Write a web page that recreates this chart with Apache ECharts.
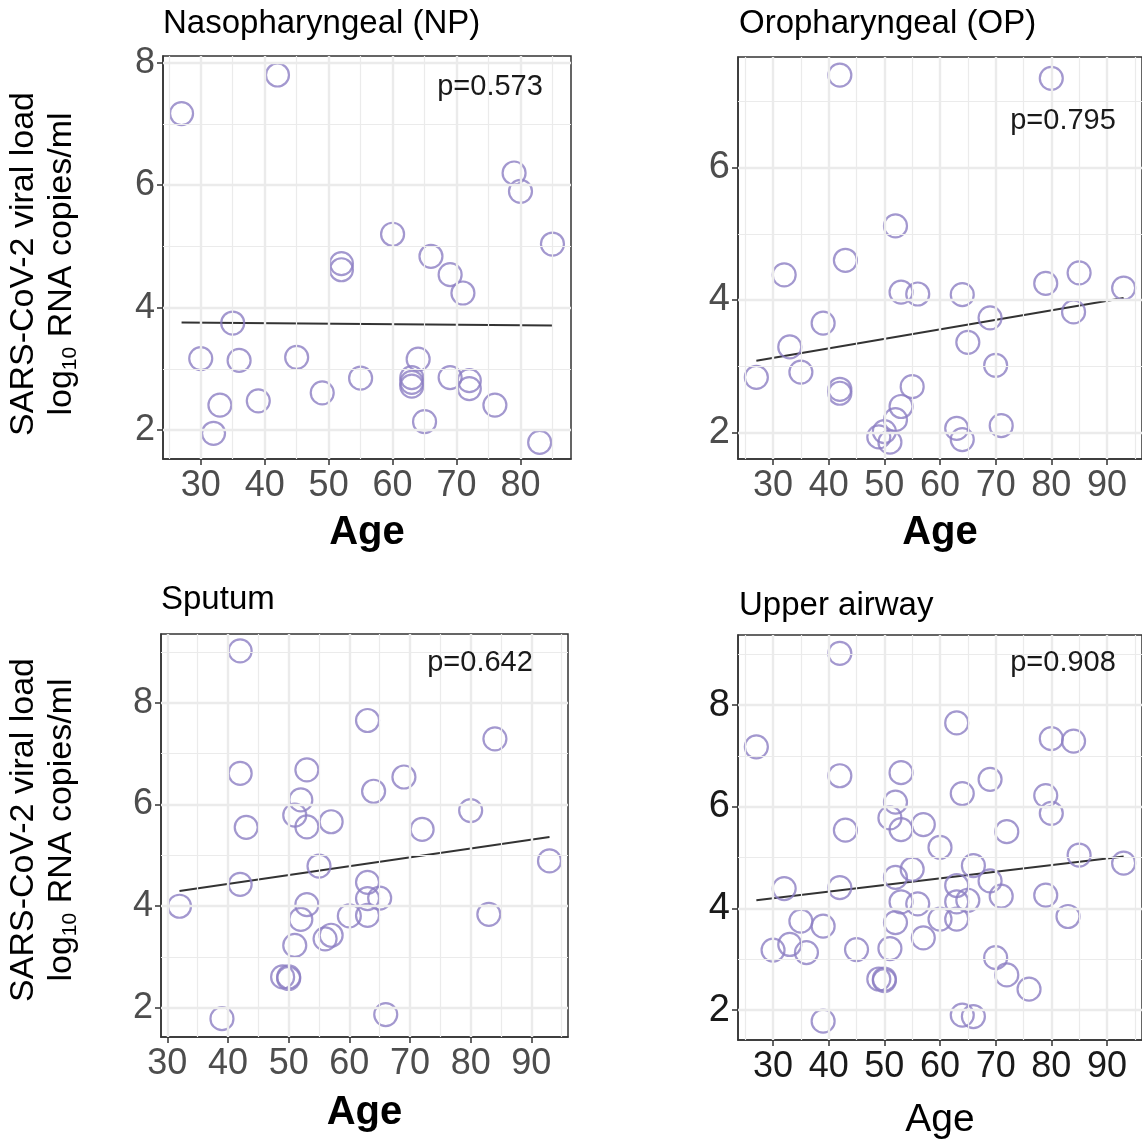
<!DOCTYPE html>
<html><head><meta charset="utf-8">
<script src="https://cdn.jsdelivr.net/npm/echarts@6/dist/echarts.min.js"></script>
<style>html,body{margin:0;padding:0;background:#fff}#c{width:1142px;height:1146px}</style>
</head><body><div id="c"></div>
<script>
// ---------- DATA ----------
const titles = ['Nasopharyngeal (NP)', 'Oropharyngeal (OP)', 'Sputum', 'Upper airway'];
const pValues = ['p=0.573', 'p=0.795', 'p=0.642', 'p=0.908'];

const npAge  = [27,42,79,80,85,60,52,52,66,69,71,35,30,36,45,33,32,39,49,55,64,63,63,63,65,69,72,72,76,83];
const npLoad = [7.17,7.80,6.20,5.90,5.04,5.20,4.72,4.62,4.84,4.54,4.24,3.75,3.17,3.14,3.19,2.41,1.95,2.48,2.61,2.85,3.16,2.86,2.78,2.72,2.14,2.86,2.81,2.68,2.41,1.80];
const npFit  = [[27,3.76],[85,3.71]];

const opAge  = [42,80,52,43,32,53,56,64,79,85,93,84,69,39,33,65,27,35,42,42,70,55,53,52,50,49,51,63,64,71];
const opLoad = [7.40,7.35,5.12,4.60,4.38,4.12,4.09,4.08,4.25,4.41,4.18,3.82,3.73,3.65,3.29,3.36,2.83,2.91,2.65,2.59,3.01,2.69,2.39,2.19,2.01,1.93,1.85,2.06,1.89,2.10];
const opFit  = [[27,3.08],[93,4.03]];

const spAge  = [42,63,84,42,53,69,64,52,51,53,43,57,80,72,93,55,42,63,63,65,63,32,53,52,60,83,56,57,51,49,50,50,39,66];
const spLoad = [9.02,7.65,7.29,6.61,6.68,6.54,6.26,6.09,5.79,5.56,5.55,5.66,5.88,5.51,4.89,4.79,4.43,4.47,4.15,4.16,3.82,4.00,4.03,3.74,3.81,3.84,3.36,3.43,3.23,2.61,2.61,2.58,1.79,1.87];
const spFit  = [[32,4.30],[93,5.36]];

const uaAge  = [42,27,63,80,84,42,53,69,64,52,51,53,43,57,79,80,72,60,85,93,66,55,52,69,63,32,42,71,79,53,56,63,65,83,63,60,52,35,39,33,30,36,45,51,57,70,72,76,49,50,50,39,64,66];
const uaLoad = [9.02,7.18,7.65,7.34,7.29,6.61,6.67,6.54,6.26,6.09,5.78,5.55,5.54,5.65,6.22,5.87,5.51,5.20,5.05,4.89,4.84,4.77,4.61,4.54,4.45,4.39,4.41,4.24,4.26,4.13,4.09,4.13,4.16,3.84,3.79,3.79,3.72,3.75,3.65,3.29,3.18,3.13,3.19,3.21,3.42,3.03,2.69,2.41,2.61,2.61,2.58,1.78,1.90,1.87];
const uaFit  = [[27,4.16],[93,5.02]];

const xTicksA = [30,40,50,60,70,80];
const xTicksB = [30,40,50,60,70,80,90];
const yTicksA = [2,4,6,8];
const yTicksB = [2,4,6];

// ---------- LAYOUT / STYLE ----------
const FONT = '"Liberation Sans", Arial, Helvetica, sans-serif';
const PURPLE = '#8C7EC3';
const panels = [
  {age:npAge, load:npLoad, fit:npFit, grid:{left:163,top:56,width:408,height:403}, x:[24.1,87.9], y:[1.53,8.11],
   xt:xTicksA, yt:yTicksA, xm:[25,35,45,55,65,75,85], ym:[3,5,7], ysz:36, col:'#4D4D4D', bold:true, agesz:40, gap:74,
   pv:[490,87]},
  {age:opAge, load:opLoad, fit:opFit, grid:{left:738,top:57,width:407,height:402}, x:[23.7,96.3], y:[1.596,7.673],
   xt:xTicksB, yt:yTicksB, xm:[25,35,45,55,65,75,85,95], ym:[3,5,7], ysz:38, col:'#4D4D4D', bold:true, agesz:40, gap:74,
   pv:[1063,121]},
  {age:spAge, load:spLoad, fit:spFit, grid:{left:161,top:634,width:407,height:403}, x:[28.95,96.05], y:[1.43,9.35],
   xt:xTicksB, yt:yTicksA, xm:[35,45,55,65,75,85,95], ym:[3,5,7,9], ysz:36, col:'#4D4D4D', bold:true, agesz:40, gap:76,
   pv:[480,663]},
  {age:uaAge, load:uaLoad, fit:uaFit, grid:{left:738,top:635,width:407,height:405}, x:[23.7,96.3], y:[1.41,9.38],
   xt:xTicksB, yt:yTicksA, xm:[25,35,45,55,65,75,85,95], ym:[3,5,7,9], ysz:38, col:'#1A1A1A', bold:false, agesz:39, gap:80,
   pv:[1063,663]}
];
const titlePos = [[163,24],[739,24],[161,600],[739,606]];

const grids=[], xAxes=[], yAxes=[], series=[], graphics=[];
panels.forEach((p,i)=>{
  grids.push(Object.assign({show:true, borderColor:'#333333', borderWidth:1.5, backgroundColor:'#fff', containLabel:false}, p.grid));
  xAxes.push({gridIndex:i, type:'value', min:p.x[0], max:p.x[1],
    axisLine:{show:true, lineStyle:{color:'#333333', width:1.5}},
    axisTick:{show:true, customValues:p.xt, length:6, lineStyle:{color:'#333333', width:1.5}},
    axisLabel:{customValues:p.xt, fontSize:36, color:p.col, fontFamily:FONT, margin:9},
    splitLine:{show:false},
    name:'Age', nameLocation:'middle', nameGap:p.gap,
    nameTextStyle:{fontSize:p.agesz, fontWeight:p.bold?'bold':'normal', color:'#000', fontFamily:FONT, verticalAlign:'middle'}
  });
  yAxes.push({gridIndex:i, type:'value', min:p.y[0], max:p.y[1],
    axisLine:{show:true, lineStyle:{color:'#333333', width:1.5}},
    axisTick:{show:true, customValues:p.yt, length:6, lineStyle:{color:'#333333', width:1.5}},
    axisLabel:{customValues:p.yt, fontSize:p.ysz, color:p.col, fontFamily:FONT, margin:8},
    splitLine:{show:false}
  });
  const gl = [];
  p.xt.forEach(v=>gl.push({xAxis:v, lineStyle:{width:2.4}}));
  p.xm.forEach(v=>gl.push({xAxis:v, lineStyle:{width:1.2}}));
  p.yt.forEach(v=>gl.push({yAxis:v, lineStyle:{width:2.4}}));
  p.ym.forEach(v=>gl.push({yAxis:v, lineStyle:{width:1.2}}));
  series.push({type:'line', xAxisIndex:i, yAxisIndex:i, data:[], z:1, silent:true,
    markLine:{silent:true, symbol:['none','none'], animation:false, label:{show:false},
      lineStyle:{color:'#EBEBEB', type:'solid', width:1.2}, emphasis:{disabled:true}, data:gl}});
  series.push({type:'line', xAxisIndex:i, yAxisIndex:i, data:p.fit, showSymbol:false, symbol:'none', z:2,
    lineStyle:{color:'#333333', width:2}});
  series.push({type:'scatter', xAxisIndex:i, yAxisIndex:i, z:3,
    data:p.age.map((a,k)=>[a,p.load[k]]), symbol:'circle', symbolSize:23,
    itemStyle:{color:'rgba(0,0,0,0)', borderColor:PURPLE, borderWidth:2.2}});
  graphics.push({type:'text', x:titlePos[i][0], y:titlePos[i][1], z:100,
    style:{text:titles[i], font:'33px '+FONT, fill:'#000', textAlign:'left', textVerticalAlign:'middle', align:'left', verticalAlign:'middle'}});
  graphics.push({type:'text', x:p.pv[0], y:p.pv[1], z:100,
    style:{text:pValues[i], font:'29px '+FONT, fill:'#1A1A1A', textAlign:'center', textVerticalAlign:'middle', align:'center', verticalAlign:'middle'}});
});
const ylab = (y)=>({type:'text', x:43, y:y, z:100, rotation:Math.PI/2,
  style:{text:'{a|SARS-CoV-2 viral load}\n{a|log}{s|10}{a| RNA copies/ml}',
    rich:{a:{fontSize:34, fontFamily:FONT, fill:'#000', color:'#000', lineHeight:38},
          s:{fontSize:21, fontFamily:FONT, fill:'#000', color:'#000', lineHeight:18, verticalAlign:'bottom'}},
    textAlign:'center', textVerticalAlign:'middle', align:'center', verticalAlign:'middle'}});
graphics.push(ylab(264));
graphics.push(ylab(830));

const chart = echarts.init(document.getElementById('c'), null, {renderer:'canvas'});
chart.setOption({animation:false, backgroundColor:'#fff', grid:grids, xAxis:xAxes, yAxis:yAxes, series:series, graphic:graphics});
</script></body></html>
